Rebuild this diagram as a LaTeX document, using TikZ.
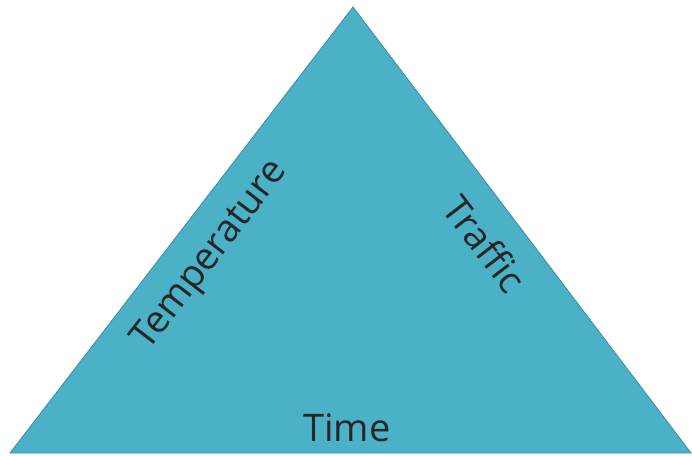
\documentclass[tikz,border=0pt]{standalone}
\usepackage{fontspec}
\setmainfont{Open Sans}
\usetikzlibrary{positioning,calc}
\definecolor{tealfill}{HTML}{4BB1C7}
\definecolor{tealline}{HTML}{3A8E9E}

\begin{document}
\begin{tikzpicture}[x=1pt,y=1pt,every node/.style={font=\fontsize{38}{40}\selectfont,text=black!85}]
\useasboundingbox (0,0) rectangle (692,455);
\coordinate (top) at (353,448);
\coordinate (bl) at (10,2);
\coordinate (br) at (691,2);
\draw[fill=tealfill,draw=tealline,line width=0.8pt] (bl) -- (top) -- (br) -- cycle;
\node[rotate=52.4] (temp) at (211,199) {Temperature};
\node[rotate=-52.4] (traffic) at (485,211) {Traffic};
\node (time) at (347,27) {Time};
\end{tikzpicture}
\end{document}
